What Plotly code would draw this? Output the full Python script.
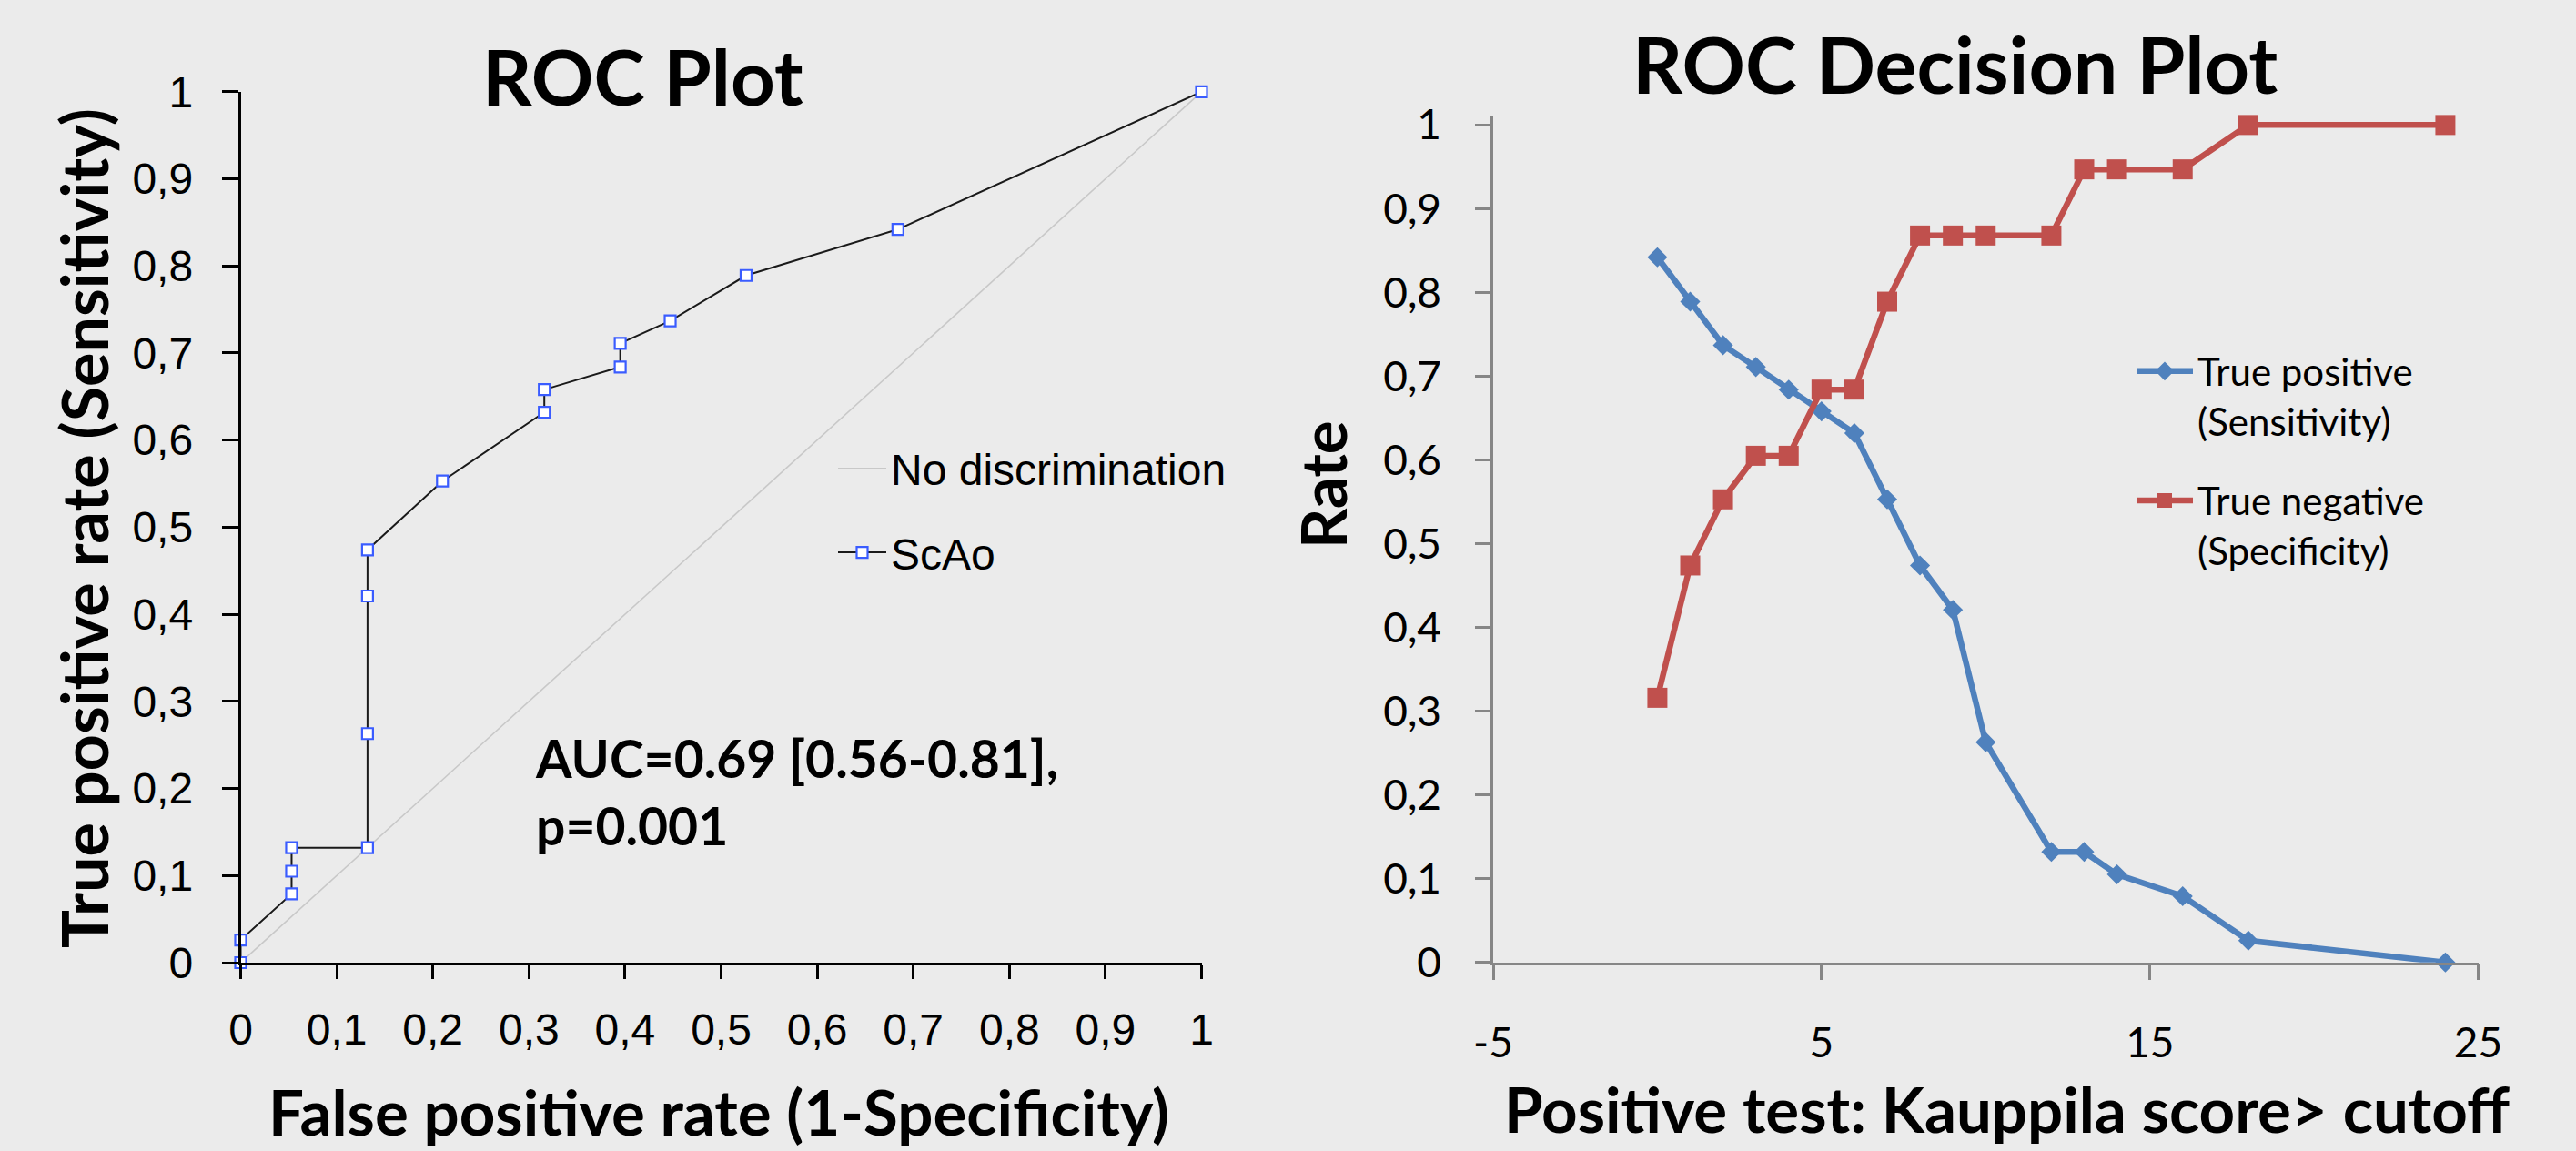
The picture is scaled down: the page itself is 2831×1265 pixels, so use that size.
import plotly.graph_objects as go

W, H = 2831, 1265

# ---------------- data ----------------
# ROC plot (left)
roc_fpr = [0.0, 0.0, 0.053, 0.053, 0.053, 0.132, 0.132, 0.132, 0.132, 0.210,
           0.316, 0.316, 0.395, 0.395, 0.447, 0.526, 0.684, 1.0]
roc_tpr = [0.0, 0.026, 0.079, 0.105, 0.132, 0.132, 0.263, 0.421, 0.474, 0.553,
           0.632, 0.658, 0.684, 0.711, 0.737, 0.789, 0.842, 1.0]
diag_x = [0, 1]
diag_y = [0, 1]

# ROC decision plot (right)
cutoffs = [0, 1, 2, 3, 4, 5, 6, 7, 8, 9, 10, 12, 13, 14, 16, 18, 24]
sensitivity = [0.842, 0.789, 0.737, 0.711, 0.684, 0.658, 0.632, 0.553, 0.474, 0.421,
               0.263, 0.132, 0.132, 0.105, 0.079, 0.026, 0.0]
specificity = [0.316, 0.474, 0.553, 0.605, 0.605, 0.684, 0.684, 0.789, 0.868, 0.868,
               0.868, 0.868, 0.947, 0.947, 0.947, 1.0, 1.0]
right_xtick_vals = [-5, 5, 15, 25]
right_xtick_text = ["-5", "5", "15", "25"]

# ---------------- helpers ----------------
def fx(px):
    return px / W

def fy(py):
    return 1 - py / H

BG = "#ebebeb"
BLUE = "#4f81bd"
RED = "#c0504d"
ARIAL = "Liberation Sans, Arial, sans-serif"
CAL = "Lato, Calibri, sans-serif"

fig = go.Figure()

fig.add_trace(go.Scatter(
    x=diag_x, y=diag_y, mode="lines", name="No discrimination",
    line=dict(color="#c8c8c8", width=1.6), xaxis="x", yaxis="y",
    legend="legend", legendgroup="a", cliponaxis=False, hoverinfo="skip"))
fig.add_trace(go.Scatter(
    x=roc_fpr, y=roc_tpr, mode="lines+markers", name="ScAo",
    line=dict(color="#1a1a1a", width=2),
    marker=dict(symbol="square", size=12, color="white",
                line=dict(color="#3a5cff", width=2.2)),
    xaxis="x", yaxis="y", legend="legend", legendgroup="b", cliponaxis=False))

fig.add_trace(go.Scatter(
    x=cutoffs, y=sensitivity, mode="lines+markers",
    name="True positive<br>(Sensitivity)",
    line=dict(color=BLUE, width=6.5),
    marker=dict(symbol="diamond", size=17, color=BLUE),
    xaxis="x2", yaxis="y2", legend="legend2", legendgroup="c", cliponaxis=False))
fig.add_trace(go.Scatter(
    x=cutoffs, y=specificity, mode="lines+markers",
    name="True negative<br>(Specificity)",
    line=dict(color=RED, width=6.5),
    marker=dict(symbol="square", size=22, color=RED),
    xaxis="x2", yaxis="y2", legend="legend2", legendgroup="d", cliponaxis=False))

axis_common = dict(showgrid=False, zeroline=False, showline=True, ticks="outside",
                   automargin=False)

fig.update_layout(
    width=W, height=H, autosize=False,
    margin=dict(l=0, r=0, t=0, b=0, pad=0, autoexpand=False),
    paper_bgcolor=BG, plot_bgcolor=BG,
    separators=", ",
    xaxis=dict(domain=[fx(264.5), fx(1320.5)], range=[0, 1], dtick=0.1, tick0=0,
               linecolor="#000", linewidth=2.5, tickcolor="#000", tickwidth=2.5,
               ticklen=15, ticklabelstandoff=15,
               tickfont=dict(family=ARIAL, size=48, color="#000"),
               anchor="y", **axis_common),
    yaxis=dict(domain=[fy(1058), fy(100.8)], range=[0, 1], dtick=0.1, tick0=0,
               linecolor="#000", linewidth=2.5, tickcolor="#000", tickwidth=2.5,
               ticklen=18, ticklabelstandoff=22,
               tickfont=dict(family=ARIAL, size=48, color="#000"),
               anchor="x", **axis_common),
    xaxis2=dict(domain=[fx(1641), fx(2723.5)], range=[-5, 25],
                tickvals=right_xtick_vals, ticktext=right_xtick_text,
                linecolor="#868686", linewidth=2.5, tickcolor="#868686", tickwidth=2.5,
                ticklen=17, ticklabelstandoff=29,
                tickfont=dict(family=CAL, size=46, color="#000"),
                anchor="y2", **axis_common),
    yaxis2=dict(domain=[fy(1057.7), fy(127.8)], range=[0, 1.0104], dtick=0.1, tick0=0,
                linecolor="#868686", linewidth=2.5, tickcolor="#868686", tickwidth=2.5,
                ticklen=17, ticklabelstandoff=28,
                tickfont=dict(family=CAL, size=46, color="#000"),
                anchor="x2", **axis_common),
    legend=dict(x=fx(916), y=fy(477), xanchor="left", yanchor="top",
                bgcolor="rgba(0,0,0,0)", borderwidth=0, itemwidth=53,
                tracegroupgap=27,
                font=dict(family=ARIAL, size=48, color="#000")),
    legend2=dict(x=fx(2343), y=fy(374), xanchor="left", yanchor="top",
                 bgcolor="rgba(0,0,0,0)", borderwidth=0, itemwidth=62,
                 tracegroupgap=30, valign="top",
                 font=dict(family=CAL, size=42, color="#000")),
    showlegend=True,
)

annots = [
    dict(text="<b>ROC Plot</b>", x=fx(706), y=fy(83), font=dict(size=85)),
    dict(text="<b>ROC Decision Plot</b>", x=fx(2148), y=fy(69), font=dict(size=86)),
    dict(text="<b>False positive rate (1-Specificity)</b>", x=fx(790), y=fy(1221),
         font=dict(size=69)),
    dict(text="<b>Positive test: Kauppila score> cutoff</b>", x=fx(2205), y=fy(1218),
         font=dict(size=69)),
    dict(text="<b>True positive rate (Sensitivity)</b>", x=fx(92), y=fy(581),
         font=dict(size=70), textangle=-90),
    dict(text="<b>Rate</b>", x=fx(1453), y=fy(533), font=dict(size=69), textangle=-90),
]
for a in annots:
    a.update(xref="paper", yref="paper", showarrow=False, xanchor="center",
             yanchor="middle")
    a["font"].update(family=CAL, color="#000")
    fig.add_annotation(**a)

fig.add_annotation(text="<b>AUC=0.69 [0.56-0.81],</b><br><b>p=0.001</b>",
                   xref="paper", yref="paper", x=fx(586), y=fy(870),
                   xanchor="left", yanchor="middle", align="left", showarrow=False,
                   font=dict(family=CAL, size=57, color="#000"))

fig.write_html("out.html",
               config={"displayModeBar": False},
               post_script="document.body.style.margin='0';"
                           "document.body.style.background='#ebebeb';"
                           "document.documentElement.style.overflow='hidden';")
